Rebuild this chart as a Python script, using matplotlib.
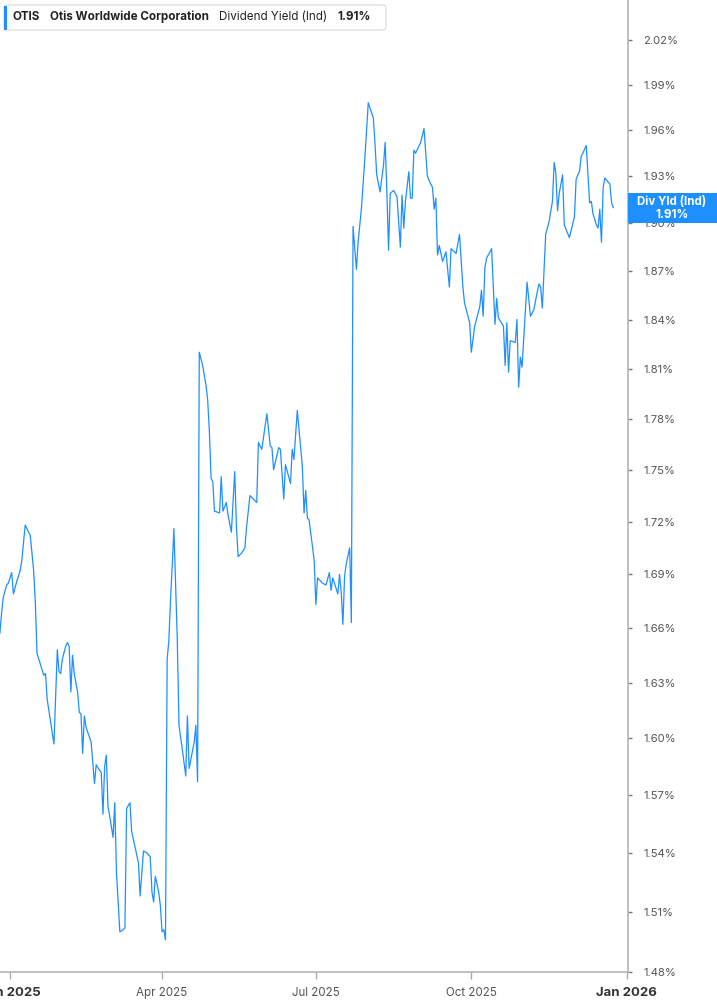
import pandas as pd
import matplotlib
matplotlib.use('Agg')
import matplotlib.pyplot as plt
from matplotlib.patches import Rectangle, FancyBboxPatch
from matplotlib.transforms import IdentityTransform
from matplotlib.ticker import NullLocator

plt.rcParams['font.family'] = ['Inter', 'DejaVu Sans']

# chart data
ticker = 'OTIS'
company = 'Otis Worldwide Corporation'
metric = 'Dividend Yield (Ind)'
last_yield = 1.91

dates = [
    '2024-12-26', '2024-12-27', '2024-12-28', '2024-12-30', '2024-12-31',
    '2025-01-01', '2025-01-02', '2025-01-03', '2025-01-05', '2025-01-07', '2025-01-08',
    '2025-01-10', '2025-01-11', '2025-01-13', '2025-01-15', '2025-01-16', '2025-01-17',
    '2025-01-19', '2025-01-21', '2025-01-22', '2025-01-23', '2025-01-25', '2025-01-27',
    '2025-01-29', '2025-01-30', '2025-01-31', '2025-02-01', '2025-02-03', '2025-02-04',
    '2025-02-05', '2025-02-06', '2025-02-07', '2025-02-08', '2025-02-10', '2025-02-11',
    '2025-02-12', '2025-02-13', '2025-02-14', '2025-02-15', '2025-02-18', '2025-02-20',
    '2025-02-21', '2025-02-23', '2025-02-24', '2025-02-25', '2025-02-26', '2025-02-27',
    '2025-02-28', '2025-03-01', '2025-03-03', '2025-03-04', '2025-03-05', '2025-03-07',
    '2025-03-09', '2025-03-10', '2025-03-11', '2025-03-13', '2025-03-14', '2025-03-16',
    '2025-03-18', '2025-03-19', '2025-03-21', '2025-03-23', '2025-03-25', '2025-03-26',
    '2025-03-27', '2025-03-28', '2025-03-30', '2025-03-31', '2025-04-01', '2025-04-02',
    '2025-04-03', '2025-04-04', '2025-04-05', '2025-04-06', '2025-04-07', '2025-04-08',
    '2025-04-10', '2025-04-11', '2025-04-13', '2025-04-15', '2025-04-16', '2025-04-17',
    '2025-04-20', '2025-04-21', '2025-04-22', '2025-04-23', '2025-04-25', '2025-04-27',
    '2025-04-28', '2025-04-29', '2025-04-30', '2025-05-01', '2025-05-02', '2025-05-05',
    '2025-05-06', '2025-05-07', '2025-05-09', '2025-05-10', '2025-05-12', '2025-05-14',
    '2025-05-15', '2025-05-16', '2025-05-18', '2025-05-20', '2025-05-21', '2025-05-23',
    '2025-05-25', '2025-05-27', '2025-05-28', '2025-05-30', '2025-06-02', '2025-06-04',
    '2025-06-05', '2025-06-06', '2025-06-09', '2025-06-10', '2025-06-12', '2025-06-13',
    '2025-06-16', '2025-06-17', '2025-06-18', '2025-06-20', '2025-06-23', '2025-06-24',
    '2025-06-25', '2025-06-26', '2025-06-27', '2025-06-30', '2025-07-01', '2025-07-02',
    '2025-07-05', '2025-07-07', '2025-07-09', '2025-07-10', '2025-07-11', '2025-07-12',
    '2025-07-14', '2025-07-15', '2025-07-16', '2025-07-17', '2025-07-18', '2025-07-19',
    '2025-07-21', '2025-07-22', '2025-07-23', '2025-07-25', '2025-07-26', '2025-07-28',
    '2025-07-30', '2025-08-01', '2025-08-04', '2025-08-05', '2025-08-06', '2025-08-08',
    '2025-08-10', '2025-08-11', '2025-08-12', '2025-08-13', '2025-08-14', '2025-08-16',
    '2025-08-18', '2025-08-20', '2025-08-21', '2025-08-22', '2025-08-23', '2025-08-25',
    '2025-08-26', '2025-08-27', '2025-08-28', '2025-08-29', '2025-09-01', '2025-09-03',
    '2025-09-05', '2025-09-07', '2025-09-08', '2025-09-09', '2025-09-10', '2025-09-11',
    '2025-09-12', '2025-09-14', '2025-09-16', '2025-09-18', '2025-09-19', '2025-09-22',
    '2025-09-24', '2025-09-26', '2025-09-27', '2025-09-30', '2025-10-01', '2025-10-03',
    '2025-10-06', '2025-10-07', '2025-10-08', '2025-10-09', '2025-10-10', '2025-10-13',
    '2025-10-15', '2025-10-16', '2025-10-17', '2025-10-20', '2025-10-21', '2025-10-22',
    '2025-10-23', '2025-10-24', '2025-10-27', '2025-10-28', '2025-10-29', '2025-10-30',
    '2025-10-31', '2025-11-03', '2025-11-05', '2025-11-07', '2025-11-09', '2025-11-10',
    '2025-11-11', '2025-11-12', '2025-11-14', '2025-11-16', '2025-11-18', '2025-11-19',
    '2025-11-20', '2025-11-21', '2025-11-22', '2025-11-24', '2025-11-25', '2025-11-28',
    '2025-12-01', '2025-12-02', '2025-12-03', '2025-12-04', '2025-12-05', '2025-12-06',
    '2025-12-08', '2025-12-10', '2025-12-11', '2025-12-12', '2025-12-14', '2025-12-15',
    '2025-12-16', '2025-12-17', '2025-12-18', '2025-12-19', '2025-12-22', '2025-12-23',
    '2025-12-24',
]

yields = [
    1.657, 1.668, 1.677, 1.684, 1.685,
    1.688, 1.691, 1.679, 1.686, 1.692, 1.698,
    1.718, 1.716, 1.712, 1.692, 1.674, 1.646,
    1.640, 1.634, 1.635, 1.621, 1.609, 1.597,
    1.648, 1.636, 1.635, 1.643, 1.650, 1.652,
    1.650, 1.625, 1.645, 1.635, 1.625, 1.614,
    1.613, 1.592, 1.612, 1.606, 1.598, 1.576,
    1.586, 1.583, 1.582, 1.560, 1.585, 1.591,
    1.564, 1.559, 1.548, 1.566, 1.530, 1.500,
    1.501, 1.502, 1.563, 1.566, 1.551, 1.543,
    1.535, 1.518, 1.541, 1.540, 1.538, 1.520,
    1.515, 1.528, 1.520, 1.513, 1.500, 1.501,
    1.496, 1.643, 1.653, 1.676, 1.695, 1.716,
    1.653, 1.607, 1.594, 1.580, 1.612, 1.584,
    1.598, 1.607, 1.577, 1.820, 1.812, 1.800,
    1.791, 1.772, 1.745, 1.743, 1.726, 1.725,
    1.746, 1.726, 1.731, 1.724, 1.714, 1.749,
    1.717, 1.700, 1.702, 1.705, 1.717, 1.735,
    1.733, 1.731, 1.766, 1.762, 1.783, 1.764,
    1.763, 1.750, 1.763, 1.762, 1.733, 1.753,
    1.742, 1.762, 1.756, 1.785, 1.752, 1.725,
    1.738, 1.722, 1.721, 1.698, 1.673, 1.688,
    1.685, 1.684, 1.691, 1.681, 1.688, 1.685,
    1.679, 1.690, 1.680, 1.662, 1.689, 1.696,
    1.705, 1.663, 1.898, 1.871, 1.888, 1.910,
    1.942, 1.978, 1.968, 1.951, 1.931, 1.920,
    1.937, 1.952, 1.921, 1.883, 1.919, 1.921,
    1.917, 1.885, 1.918, 1.897, 1.914, 1.933,
    1.916, 1.916, 1.947, 1.945, 1.952, 1.961,
    1.930, 1.925, 1.923, 1.909, 1.916, 1.880,
    1.886, 1.876, 1.882, 1.860, 1.884, 1.881,
    1.893, 1.860, 1.850, 1.838, 1.820, 1.836,
    1.848, 1.858, 1.842, 1.872, 1.878, 1.884,
    1.837, 1.853, 1.841, 1.836, 1.812, 1.838,
    1.808, 1.827, 1.826, 1.840, 1.799, 1.817,
    1.811, 1.863, 1.842, 1.846, 1.857, 1.862,
    1.860, 1.847, 1.893, 1.901, 1.914, 1.939,
    1.932, 1.908, 1.919, 1.931, 1.899, 1.891,
    1.904, 1.928, 1.931, 1.933, 1.943, 1.945,
    1.950, 1.913, 1.914, 1.906, 1.899, 1.897,
    1.909, 1.888, 1.923, 1.929, 1.925, 1.913,
    1.910,
]

y_ticks = [1.48, 1.51, 1.54, 1.57, 1.60, 1.63, 1.66, 1.69, 1.72, 1.75,
           1.78, 1.81, 1.84, 1.87, 1.90, 1.93, 1.96, 1.99, 2.02]
x_ticks = ['2025-01-01', '2025-04-01', '2025-07-01', '2025-10-01', '2026-01-01']
x_labels = ['Jan 2025', 'Apr 2025', 'Jul 2025', 'Oct 2025', 'Jan 2026']

W, H = 717, 1005
blue = '#1e8fff'

fig = plt.figure(figsize=(W / 100, H / 100), dpi=100)
ax = fig.add_axes([0, 33 / H, 628 / W, 972 / H])

ax.plot(pd.to_datetime(dates), yields, color=blue, lw=0.9)

ax.set_yscale('log')
ax.set_ylim(1.48, 2.047)
ax.set_xlim(pd.Timestamp('2024-12-26 02:00'), pd.Timestamp('2026-01-01 17:00'))

ax.yaxis.tick_right()
ax.set_yticks(y_ticks, labels=[f'{v:.2f}%' for v in y_ticks])
ax.yaxis.set_minor_locator(NullLocator())
ax.set_xticks(pd.to_datetime(x_ticks), labels=x_labels)
ax.xaxis.set_minor_locator(NullLocator())

for side in ['left', 'top']:
    ax.spines[side].set_visible(False)
for side in ['right', 'bottom']:
    ax.spines[side].set_color('#b4b4b4')
    ax.spines[side].set_linewidth(1.2)

ax.tick_params(axis='y', direction='out', length=3, width=1, color='#777777',
               pad=8, labelsize=8.1, labelcolor='#555555')
ax.tick_params(axis='x', direction='out', length=5, width=1, color='#aaaaaa',
               pad=6, labelsize=8.3, labelcolor='#555555')
for lab in ax.get_xticklabels():
    if lab.get_text().startswith('Jan'):
        lab.set_fontweight('bold')
        lab.set_color('#333333')
        lab.set_fontsize(9.5)

# value badge on the right axis
ypix = ax.transData.transform((ax.get_xlim()[0], last_yield))[1]
fig.add_artist(Rectangle((628, ypix - 15), 89, 30, transform=IdentityTransform(),
                         facecolor=blue, edgecolor='none', zorder=5))
fig.text(672 / W, (ypix + 6) / H, 'Div Yld (Ind)', ha='center', va='center',
         color='white', fontsize=8.3, fontweight='bold', zorder=6)
fig.text(672 / W, (ypix - 7) / H, f'{last_yield:.2f}%', ha='center', va='center',
         color='white', fontsize=8.3, fontweight='bold', zorder=6)

# header legend box
fig.add_artist(FancyBboxPatch((4, H - 30), 382, 25, boxstyle='round,pad=0,rounding_size=3',
                              transform=IdentityTransform(), facecolor='white',
                              edgecolor='#e2e2e2', lw=1, zorder=5))
fig.add_artist(Rectangle((4, H - 29.5), 3, 24, transform=IdentityTransform(),
                         facecolor=blue, edgecolor='none', zorder=6))
ty = (H - 17) / H
renderer = fig.canvas.get_renderer()
xpos = 13
parts = [(ticker, 'bold'), (company, 'bold'), (metric, 'normal'),
         (f'{last_yield:.2f}%', 'bold')]
for s, weight in parts:
    t = fig.text(xpos / W, ty, s, ha='left', va='center', fontsize=8.4,
                 fontweight=weight, color='#222222', zorder=7)
    xpos += t.get_window_extent(renderer=renderer).width + 10

fig.savefig('out.png', dpi=100)
